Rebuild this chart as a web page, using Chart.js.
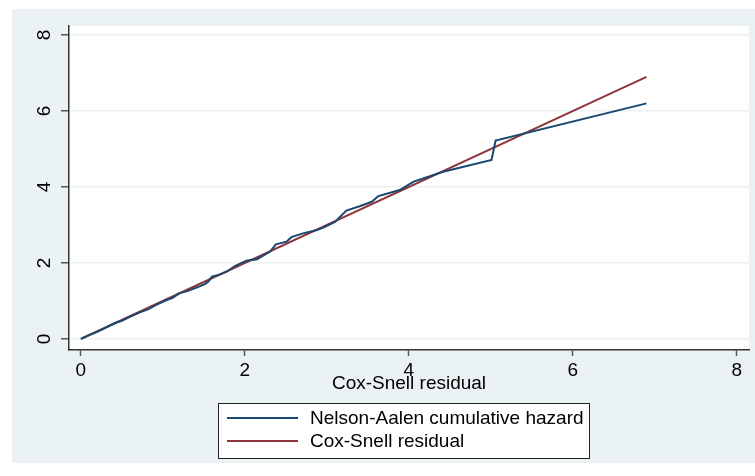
<!DOCTYPE html>
<html>
<head>
<meta charset="utf-8">
<script src="https://cdn.jsdelivr.net/npm/chart.js@4.4.1/dist/chart.umd.min.js"></script>
<style>
  body { margin: 0; background: #fff; }
  #wrap { width: 755px; height: 476px; }
</style>
</head>
<body>
<div id="wrap"><canvas id="coxSnell" width="755" height="476"></canvas></div>
<script>
// Nelson-Aalen cumulative hazard
var naX = [0, 0.1, 0.2, 0.3, 0.42, 0.5, 0.6, 0.72, 0.82, 0.92, 1.02, 1.12, 1.2, 1.3, 1.42, 1.52, 1.56, 1.6, 1.7, 1.78, 1.88, 2.02, 2.15, 2.31, 2.38, 2.51, 2.57, 2.71, 2.88, 2.96, 3.1, 3.24, 3.41, 3.55, 3.63, 3.89, 4.06, 4.42, 5.01, 5.06, 6.9];
var naY = [0, 0.1, 0.19, 0.29, 0.42, 0.48, 0.58, 0.7, 0.78, 0.9, 1.0, 1.08, 1.2, 1.26, 1.36, 1.45, 1.52, 1.64, 1.7, 1.77, 1.92, 2.06, 2.1, 2.3, 2.49, 2.56, 2.68, 2.78, 2.87, 2.93, 3.08, 3.38, 3.5, 3.61, 3.76, 3.92, 4.14, 4.4, 4.71, 5.22, 6.2];
// Cox-Snell residual reference line
var csX = [0.02, 6.9];
var csY = [0.02, 6.9];

var xTicks = [0, 2, 4, 6, 8];
var yTicks = [0, 2, 4, 6, 8];
var seriesNames = ['Nelson-Aalen cumulative hazard', 'Cox-Snell residual'];
var seriesColors = ['#1a476f', '#90353b'];

var FONT = '"Liberation Sans", Arial, sans-serif';
var FSIZE = 19;
var BG = '#eaf2f3';

function toPoints(xs, ys) {
  return xs.map(function (x, i) { return { x: x, y: ys[i] }; });
}

var stataBack = {
  id: 'stataBack',
  beforeDraw: function (chart) {
    var ctx = chart.ctx, a = chart.chartArea;
    ctx.save();
    ctx.fillStyle = '#fff';
    ctx.fillRect(0, 0, chart.width, chart.height);
    ctx.fillStyle = BG;
    ctx.fillRect(12, 9, 743, 454);
    ctx.fillStyle = '#fff';
    ctx.fillRect(a.left, a.top, a.right - a.left, a.bottom - a.top);
    ctx.restore();
  },
  afterDraw: function (chart) {
    var ctx = chart.ctx, ys = chart.scales.y;
    ctx.save();
    // rotated y tick labels
    ctx.fillStyle = '#000';
    ctx.font = FSIZE + 'px ' + FONT;
    ctx.textAlign = 'center';
    ctx.textBaseline = 'middle';
    yTicks.forEach(function (v) {
      ctx.save();
      ctx.translate(45, ys.getPixelForValue(v));
      ctx.rotate(-Math.PI / 2);
      ctx.fillText(String(v), 0, 0);
      ctx.restore();
    });
    // legend box
    ctx.fillStyle = '#fff';
    ctx.fillRect(218, 403, 371, 55);
    ctx.strokeStyle = '#222';
    ctx.lineWidth = 1;
    ctx.strokeRect(218.5, 403.5, 371, 55);
    ctx.textAlign = 'left';
    seriesNames.forEach(function (name, i) {
      var yy = 418 + i * 23;
      ctx.strokeStyle = seriesColors[i];
      ctx.lineWidth = 2;
      ctx.beginPath();
      ctx.moveTo(227, yy);
      ctx.lineTo(298, yy);
      ctx.stroke();
      ctx.fillStyle = '#000';
      ctx.fillText(name, 310, yy + 1);
    });
    ctx.restore();
  }
};

new Chart(document.getElementById('coxSnell'), {
  type: 'line',
  data: {
    datasets: [{
      label: seriesNames[0],
      data: toPoints(naX, naY),
      borderColor: seriesColors[0],
      borderWidth: 2,
      pointRadius: 0,
      fill: false,
      tension: 0
    }, {
      label: seriesNames[1],
      data: toPoints(csX, csY),
      borderColor: seriesColors[1],
      borderWidth: 2,
      pointRadius: 0,
      fill: false,
      tension: 0
    }]
  },
  options: {
    responsive: false,
    animation: false,
    devicePixelRatio: 1,
    layout: { padding: { left: 12, top: 26, right: 6, bottom: 81 } },
    plugins: { legend: { display: false }, tooltip: { enabled: false } },
    scales: {
      x: {
        type: 'linear',
        min: -0.143,
        max: 8.15,
        afterBuildTicks: function (s) { s.ticks = xTicks.map(function (v) { return { value: v }; }); },
        afterFit: function (s) { s.height = 45; },
        grid: { drawOnChartArea: false, drawTicks: true, tickLength: 6, tickColor: '#555', tickWidth: 1.5 },
        border: { display: true, color: '#333', width: 1.5 },
        ticks: { color: '#000', padding: 3, maxRotation: 0, font: { family: FONT, size: FSIZE } },
        title: { display: true, text: 'Cox-Snell residual', color: '#000', padding: 0, font: { family: FONT, size: FSIZE } }
      },
      y: {
        type: 'linear',
        min: -0.29,
        max: 8.237,
        afterBuildTicks: function (s) { s.ticks = yTicks.map(function (v) { return { value: v }; }); },
        afterFit: function (s) { s.width = 57; },
        grid: { color: BG, lineWidth: 1.5, drawTicks: true, tickLength: 8, tickColor: '#555', tickWidth: 1.5 },
        border: { display: true, color: '#333', width: 1.5 },
        ticks: { color: 'rgba(0,0,0,0)', padding: 2, font: { family: FONT, size: FSIZE } }
      }
    }
  },
  plugins: [stataBack]
});
</script>
</body>
</html>
